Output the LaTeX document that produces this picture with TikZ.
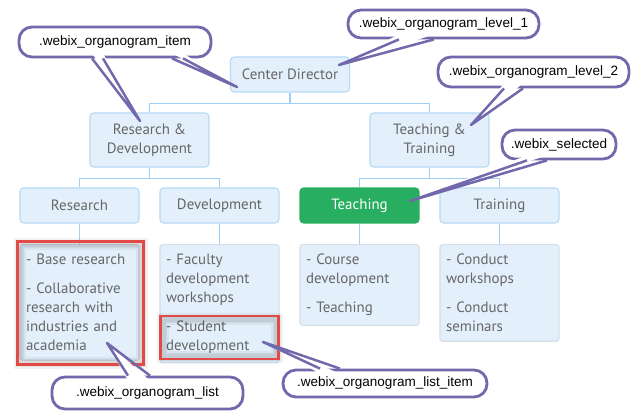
\documentclass[tikz,border=0pt]{standalone}
\usepackage{fontspec}
\setmainfont{PT Sans}
\newfontfamily\calloutfont{Liberation Sans}
\usepackage{tikz}
\usetikzlibrary{positioning}
\definecolor{boxfill}{HTML}{E3F0FC}
\definecolor{boxline}{HTML}{B6D9F5}
\definecolor{listline}{HTML}{D6DEE6}
\definecolor{linkcol}{HTML}{9ED0F7}
\definecolor{txtgrey}{HTML}{666666}
\definecolor{selgreen}{HTML}{27AE60}
\definecolor{hlred}{HTML}{E24A48}
\definecolor{tipcol}{HTML}{7268AC}
\tikzset{
  orgbox/.style={draw=boxline,fill=boxfill,rounded corners=2pt,line width=0.6pt,
    minimum width=2.38cm,minimum height=0.7cm,align=center,text=txtgrey,
    font=\fontsize{8.5}{10.8}\selectfont},
  orglist/.style={draw=listline,fill=boxfill,rounded corners=1.5pt,line width=0.6pt,
    text width=2.14cm,inner xsep=0.12cm,inner ysep=0.19cm,align=left,anchor=north,
    text=txtgrey,font=\fontsize{8.5}{10.8}\selectfont},
  selbox/.style={orgbox,draw=selgreen,fill=selgreen,text=white},
  link/.style={draw=linkcol,line width=0.6pt},
  hlbox/.style={draw=hlred,line width=1.7pt,inner sep=0pt},
  hlshade/.style={draw=black,opacity=0.05},
  callout/.style={draw=tipcol,fill=white,line width=1.6pt,rounded corners=0.26cm,
    inner sep=0pt,font=\calloutfont\fontsize{7.7}{8}\selectfont},
  tipline/.style={draw=tipcol,line width=1.4pt,line join=round}
}
\begin{document}
\begin{tikzpicture}[x=0.02cm,y=-0.02cm]
  \useasboundingbox[fill=white] (0,0) rectangle (636,412);
  % organogram boxes
  \node[orgbox] (cd) at (290,74.5) {Center Director};
  \node[orgbox,minimum height=1.08cm] (rd) at (149.5,140) {Research \&\\Development};
  \node[orgbox,minimum height=1.08cm] (tt) at (429.5,140) {Teaching \&\\Training};
  \node[orgbox] (res) at (79.5,205.5) {Research};
  \node[orgbox] (dev) at (219.5,205.5) {Development};
  \node[selbox] (tea) at (359.5,205.5) {Teaching};
  \node[orgbox] (tra) at (499.5,205.5) {Training};
  \node[orglist] (reslist) at (79.5,244) {- Base research\\[5.7pt]- Collaborative\\research with\\industries and\\academia};
  \node[orglist] (devlist) at (219.5,244) {- Faculty\\development\\workshops\\[5.7pt]- Student\\development};
  \node[orglist] (tealist) at (359.5,244) {- Course\\development\\[5.7pt]- Teaching};
  \node[orglist] (tralist) at (499.5,244) {- Conduct\\workshops\\[5.7pt]- Conduct\\seminars};
  % connectors
  \draw[link] (cd.south) -- ++(0,11) -| (rd.north);
  \draw[link] (cd.south) -- ++(0,11) -| (tt.north);
  \draw[link] (rd.south) -- ++(0,11) -| (res.north);
  \draw[link] (rd.south) -- ++(0,11) -| (dev.north);
  \draw[link] (tt.south) -- ++(0,11) -| (tea.north);
  \draw[link] (tt.south) -- ++(0,11) -| (tra.north);
  \foreach \a/\b in {res/reslist,dev/devlist,tea/tealist,tra/tralist}
    \draw[link] (\a.south) -- (\b.north);
  % highlighted list and list item
  \foreach \w in {7,5,3} {
    \draw[hlshade,line width=\w pt] (20,244) rectangle (142,363);
    \draw[hlshade,line width=\w pt] (163,319) rectangle (277,357);
  }
  \node[hlbox,minimum width=2.54cm,minimum height=2.48cm] (hllist) at (80.5,303) {};
  \node[hlbox,minimum width=2.38cm,minimum height=0.86cm] (hlitem) at (219.5,337.5) {};
  % callouts
  \node[callout,minimum width=3.84cm,minimum height=0.6cm] (cItem) at (115,42) {.webix\_organogram\_item};
  \node[callout,minimum width=3.82cm,minimum height=0.56cm] (cLevA) at (443.5,24) {.webix\_organogram\_level\_1};
  \node[callout,minimum width=3.82cm,minimum height=0.6cm] (cLevB) at (533.5,72) {.webix\_organogram\_level\_2};
  \node[callout,minimum width=2.28cm,minimum height=0.58cm] (cSel) at (559,144.5) {.webix\_selected};
  \node[callout,minimum width=3.82cm,minimum height=0.64cm] (cList) at (147.5,393) {.webix\_organogram\_list};
  \node[callout,minimum width=4.08cm,minimum height=0.54cm] (cListItem) at (385,383.5) {.webix\_organogram\_list\_item};
  % pointer tips
  \coordinate (tItemA) at (140,121);
  \coordinate (tItemB) at (237,87);
  \coordinate (tLevA) at (339,65);
  \coordinate (tLevB) at (471,125);
  \coordinate (tSel) at (410,201);
  \coordinate (tList) at (107,343);
  \coordinate (tListItem) at (263,342);
  \foreach \c/\t/\p/\q in {cItem/tItemA/-23/-12, cItem/tItemB/57/68,
      cLevA/tLevA/-44.5/-9.5, cLevB/tLevB/-29.5/-10.5, cSel/tSel/-32/-12} {
    \fill[white] ([xshift=\p*0.02cm,yshift=0.1cm]\c.south) -- (\t)
      -- ([xshift=\q*0.02cm,yshift=0.1cm]\c.south) -- cycle;
    \draw[tipline] ([xshift=\p*0.02cm]\c.south) -- (\t) -- ([xshift=\q*0.02cm]\c.south);
  }
  \foreach \c/\t/\p/\q in {cList/tList/-19.5/2.5, cListItem/tListItem/-65/-45} {
    \fill[white] ([xshift=\p*0.02cm,yshift=-0.1cm]\c.north) -- (\t)
      -- ([xshift=\q*0.02cm,yshift=-0.1cm]\c.north) -- cycle;
    \draw[tipline] ([xshift=\p*0.02cm]\c.north) -- (\t) -- ([xshift=\q*0.02cm]\c.north);
  }
\end{tikzpicture}
\end{document}
